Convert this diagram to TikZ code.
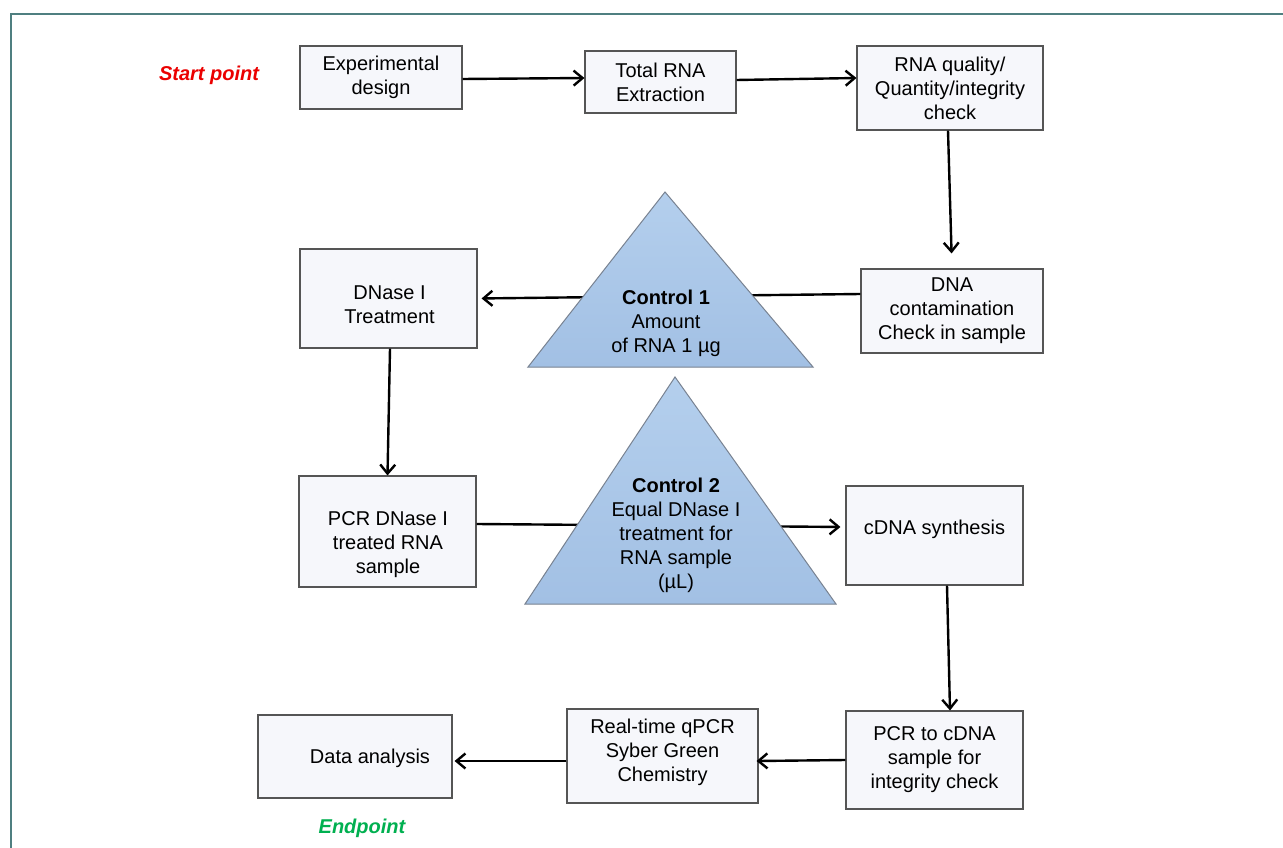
\documentclass[tikz,border=0pt]{standalone}
\usepackage{fontspec}
\setmainfont{Liberation Sans}
\usetikzlibrary{arrows.meta,calc}
\definecolor{frameC}{RGB}{79,127,128}
\definecolor{boxfill}{RGB}{246,247,251}
\definecolor{boxline}{RGB}{85,85,85}
\definecolor{triTop}{RGB}{180,207,237}
\definecolor{triBot}{RGB}{162,192,228}
\definecolor{triLine}{RGB}{120,130,145}
\definecolor{startC}{RGB}{235,0,0}
\definecolor{endC}{RGB}{0,176,80}
\tikzset{
  box/.style={draw=boxline, fill=boxfill, line width=1.1pt, inner sep=0pt, align=center,
    font=\fontsize{20}{24}\selectfont},
  txt/.style={inner sep=0pt, align=center, font=\fontsize{20}{24}\selectfont},
  flow/.style={line width=2.4pt, -{Straight Barb[length=9pt,width=15pt,line width=2.4pt]}},
  tri/.style={shade, top color=triTop, bottom color=triBot, draw=triLine, line width=1pt},
}
\begin{document}
\begin{tikzpicture}[x=1pt,y=-1pt]
\useasboundingbox (0,0) rectangle (1283,848);
\fill[white] (0,0) rectangle (1283,848);
\draw[frameC, line width=2pt] (1290,14) -- (11,14) -- (11,860);

% labels
\node[font=\fontsize{20}{24}\selectfont\bfseries\itshape, text=startC] (start) at (209,75) {Start point};
\node[font=\fontsize{20}{24}\selectfont\bfseries\itshape, text=endC] (end) at (362,828) {Endpoint};

% boxes
\node[box, minimum width=162pt, minimum height=63pt] (exp) at (381,77.5) {Experimental\\design};
\node[box, minimum width=151pt, minimum height=62pt] (total) at (660.5,82) {Total RNA\\Extraction};
\node[box, minimum width=186pt, minimum height=84pt] (qual) at (950,88) {RNA quality/\\Quantity/integrity\\check};
\node[box, minimum width=182pt, minimum height=84pt] (dna) at (952,311) {DNA\\contamination\\Check in sample};
\node[box, minimum width=177pt, minimum height=99pt] (dnase) at (388.5,298.5) {};
\node[txt] (dnase-t) at (389.5,304.5) {DNase I\\Treatment};
\node[box, minimum width=177pt, minimum height=111pt] (pcrd) at (387.5,531.5) {};
\node[txt] (pcrd-t) at (388,544.5) {PCR DNase I\\treated RNA\\sample};
\node[box, minimum width=177pt, minimum height=99pt] (cdna) at (934.5,535.5) {};
\node[txt] (cdna-t) at (934.5,529.5) {cDNA synthesis};
\node[box, minimum width=177pt, minimum height=98pt] (pcrc) at (934.5,760) {PCR to cDNA\\sample for\\integrity check};
\node[box, minimum width=191pt, minimum height=94pt] (rt) at (662.5,756) {};
\node[txt] (rt-t) at (662.5,752.5) {Real-time qPCR\\Syber Green\\Chemistry};
\node[box, minimum width=194pt, minimum height=83pt] (data) at (355,756.5) {};
\node[txt] (data-t) at (370,758) {Data analysis};

% connectors
\draw[flow] ([yshift=-1.5pt]exp.east) -- ([yshift=4pt]total.west);
\draw[flow] ([yshift=2pt]total.east) -- ([yshift=10pt]qual.west);
\draw[flow, shorten >=15pt] ([xshift=-2pt]qual.south) -- (dna.north);
\draw[flow, shorten >=4pt] ([yshift=17pt]dna.west) -- (dnase.east);
\draw[flow] ([xshift=1.5pt]dnase.south) -- (pcrd.north);
\draw[flow, shorten >=5pt] ([yshift=7.5pt]pcrd.east) -- ([yshift=8.5pt]cdna.west);
\draw[flow] ([xshift=12.5pt]cdna.south) -- ([xshift=15.5pt]pcrc.north);
\draw[flow, shorten >=-2pt] (pcrc.west) -- ([yshift=-5pt]rt.east);
\draw[flow, shorten >=2pt] ([yshift=-5pt]rt.west) -- ([yshift=-4.5pt]data.east);

% triangles
\shadedraw[tri] (665,192) -- (813,367) -- (528,367) -- cycle;
\node[txt] (c1) at (666,323) {\textbf{Control 1}\\Amount\\of RNA 1 µg};
\shadedraw[tri] (675,377) -- (836,604) -- (525,604) -- cycle;
\node[txt] (c2) at (676,535.5) {\textbf{Control 2}\\Equal DNase I\\treatment for\\RNA sample\\(µL)};
\end{tikzpicture}
\end{document}
